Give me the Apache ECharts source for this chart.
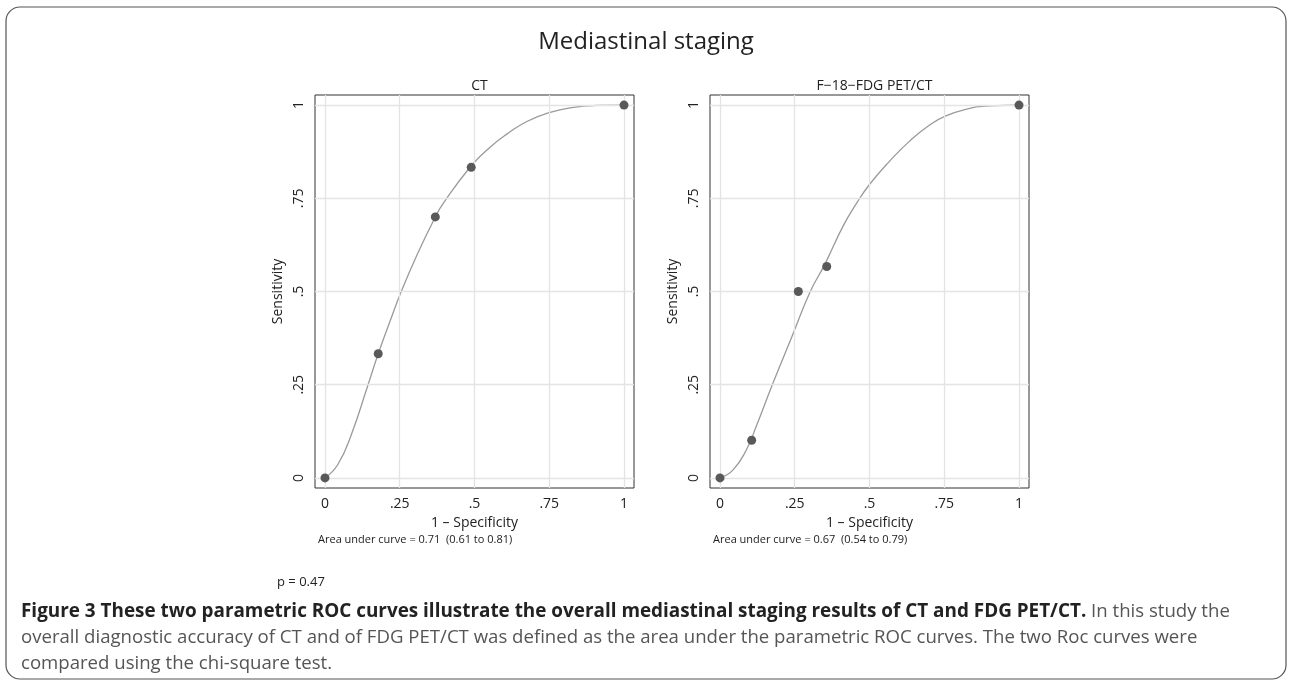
<!DOCTYPE html>
<html>
<head>
<meta charset="utf-8">
<script src="https://cdn.jsdelivr.net/npm/echarts@6/dist/echarts.min.js"></script>
<style>
html,body{margin:0;padding:0;background:#fff;}
#chart{width:1292px;height:683px;}
</style>
</head>
<body>
<div id="chart"></div>
<script>
// ---- data ----
var panelTitles = ['CT', 'F\u221218\u2212FDG PET/CT'];
var aucTexts = ['Area under curve = 0.71  (0.61 to 0.81)', 'Area under curve = 0.67  (0.54 to 0.79)'];
var tickValues = [0, 0.25, 0.5, 0.75, 1];
var tickLabels = ['0', '.25', '.5', '.75', '1'];

var ctPointsX = [0, 0.178, 0.369, 0.489, 1];
var ctPointsY = [0, 0.333, 0.700, 0.833, 1];
var petPointsX = [0, 0.106, 0.262, 0.357, 1];
var petPointsY = [0, 0.101, 0.500, 0.567, 1];

var ctCurveX = [0, 0.043, 0.088, 0.144, 0.178, 0.216, 0.255, 0.311, 0.369, 0.396, 0.488, 0.552, 0.608, 0.675, 0.750, 0.831, 0.909, 1];
var ctCurveY = [0, 0.036, 0.116, 0.250, 0.333, 0.417, 0.500, 0.604, 0.700, 0.737, 0.836, 0.887, 0.922, 0.956, 0.980, 0.994, 0.999, 1];
var petCurveX = [0, 0.043, 0.088, 0.121, 0.175, 0.239, 0.302, 0.350, 0.412, 0.457, 0.500, 0.569, 0.635, 0.702, 0.750, 0.825, 0.903, 1];
var petCurveY = [0, 0.021, 0.075, 0.138, 0.250, 0.376, 0.500, 0.572, 0.676, 0.737, 0.787, 0.851, 0.904, 0.947, 0.969, 0.989, 0.998, 1];

var mainTitle = 'Mediastinal staging';
var pText = 'p = 0.47';
var captionBold = 'Figure 3 These two parametric ROC curves illustrate the overall mediastinal staging results of CT and FDG PET/CT.';
var captionLines = [
  ' In this study the',
  'overall diagnostic accuracy of CT and of FDG PET/CT was defined as the area under the parametric ROC curves. The two Roc curves were',
  'compared using the chi-square test.'
];

// ---- build ----
function zip(xs, ys){ return xs.map(function(x,i){ return [x, ys[i]]; }); }
var FONT = 'Open Sans';
var labelMap = {};
tickValues.forEach(function(v,i){ labelMap[v] = tickLabels[i]; });
function fmt(v){ return labelMap[v] !== undefined ? labelMap[v] : ''; }

var grids = [
  {left: 315, top: 95, width: 319, height: 393},
  {left: 710, top: 95, width: 319, height: 393}
];

var xAxes = [], yAxes = [], series = [];
var pts = [zip(ctPointsX, ctPointsY), zip(petPointsX, petPointsY)];
var curves = [zip(ctCurveX, ctCurveY), zip(petCurveX, petCurveY)];

grids.forEach(function(g, i){
  g.show = true; g.borderColor = '#333'; g.borderWidth = 1; g.backgroundColor = 'transparent';
  xAxes.push({
    gridIndex: i, type: 'value', min: -0.0334, max: 1.0334,
    axisLine: {show: false},
    axisTick: {show: true, customValues: tickValues, length: 6, lineStyle: {color: '#333', width: 1}},
    axisLabel: {customValues: tickValues, formatter: fmt, fontSize: 14, color: '#222', margin: 9, fontFamily: FONT},
    splitLine: {show: false},
    name: '1 \u2013 Specificity', nameLocation: 'middle', nameGap: 26,
    nameTextStyle: {fontSize: 14, color: '#222', fontFamily: FONT, verticalAlign: 'top'}
  });
  yAxes.push({
    gridIndex: i, type: 'value', min: -0.027, max: 1.027,
    axisLine: {show: false},
    axisTick: {show: true, customValues: tickValues, length: 6, lineStyle: {color: '#333', width: 1}},
    axisLabel: {customValues: tickValues, formatter: fmt, fontSize: 14, color: '#222', margin: 9, rotate: 90, fontFamily: FONT},
    splitLine: {show: false},
    name: 'Sensitivity', nameLocation: 'middle', nameGap: 30,
    nameTextStyle: {fontSize: 14, color: '#222', fontFamily: FONT}
  });
  var gl = [];
  tickValues.forEach(function(v){ gl.push({xAxis: v}); gl.push({yAxis: v}); });
  series.push({
    type: 'line', xAxisIndex: i, yAxisIndex: i, data: [], silent: true, z: 0,
    markLine: {silent: true, symbol: ['none','none'], label: {show: false},
      lineStyle: {color: '#e4e4e4', width: 1.3, type: 'solid'}, emphasis: {disabled: true}, animation: false, data: gl}
  });
  series.push({
    type: 'line', xAxisIndex: i, yAxisIndex: i, data: curves[i], smooth: 0.5,
    showSymbol: false, symbol: 'none', lineStyle: {color: '#9a9a9a', width: 1.3}, z: 4, silent: true, animation: false
  });
  series.push({
    type: 'scatter', xAxisIndex: i, yAxisIndex: i, data: pts[i], symbolSize: 9,
    itemStyle: {color: '#595959', opacity: 1}, z: 10, silent: true, animation: false
  });
});

var chart = echarts.init(document.getElementById('chart'), null, {renderer: 'canvas'});
chart.setOption({
  backgroundColor: '#fff',
  animation: false,
  title: [
    {text: mainTitle, left: 'center', top: 25, textStyle: {fontSize: 24, fontWeight: 'normal', color: '#222', fontFamily: FONT}},
    {text: panelTitles[0], left: 474.5, textAlign: 'center', top: 74, textStyle: {fontSize: 14, fontWeight: 'normal', color: '#222', fontFamily: FONT}},
    {text: panelTitles[1], left: 869.5, textAlign: 'center', top: 74, textStyle: {fontSize: 14, fontWeight: 'normal', color: '#222', fontFamily: FONT}}
  ],
  grid: grids,
  xAxis: xAxes,
  yAxis: yAxes,
  series: series,
  graphic: [
    {type: 'rect', shape: {x: 6, y: 7, width: 1280, height: 672, r: 14}, style: {fill: 'none', stroke: '#555', lineWidth: 1.2}, silent: true},
    {type: 'text', left: 318, top: 534, style: {text: aucTexts[0], fontSize: 11, fill: '#222', fontFamily: FONT}},
    {type: 'text', left: 713, top: 534, style: {text: aucTexts[1], fontSize: 11, fill: '#222', fontFamily: FONT}},
    {type: 'text', left: 277, top: 576, style: {text: pText, fontSize: 13, fill: '#222', fontFamily: FONT}},
    {type: 'text', left: 21, top: 599, style: {
      text: '{b|' + captionBold + '}{n|' + captionLines[0] + '}\n{n|' + captionLines[1] + '}\n{n|' + captionLines[2] + '}',
      fontFamily: FONT, lineHeight: 26,
      rich: {
        b: {fontSize: 18.9, fontWeight: 'bold', fill: '#222', fontFamily: FONT, lineHeight: 26},
        n: {fontSize: 18.6, fontWeight: 'normal', fill: '#555', fontFamily: FONT, lineHeight: 26}
      }
    }}
  ]
});
</script>
</body>
</html>
